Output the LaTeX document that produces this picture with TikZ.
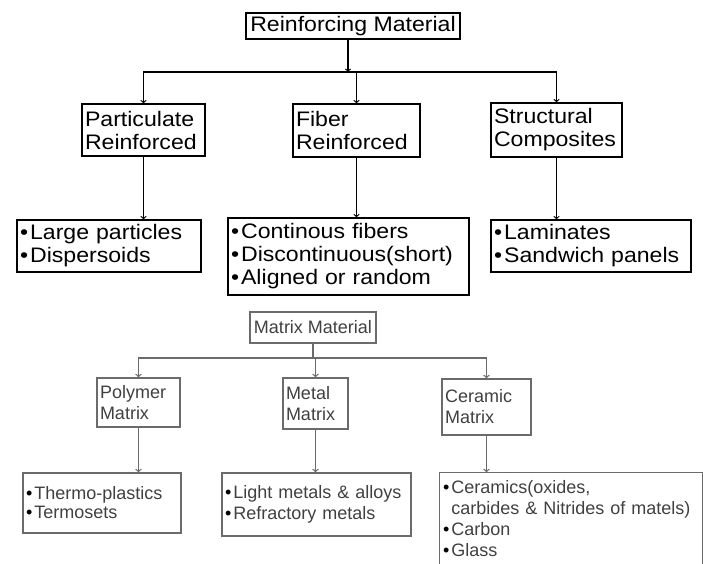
\documentclass[tikz,border=0pt]{standalone}
\usepackage{fontspec}
\setmainfont{Liberation Sans}
\newfontfamily\topfont{Liberation Sans}[FakeStretch=1.1]
\usepackage{tikz}
\usetikzlibrary{arrows,positioning,calc}

\definecolor{matline}{gray}{0.42}
\definecolor{mattext}{gray}{0.25}
\newcommand{\bul}{\textcolor{black}{\textbullet}\hspace{2pt}}

\begin{document}
\begin{tikzpicture}[x=1pt, y=-1pt,
    top/.style={draw=black, line width=1.2pt, inner sep=3pt, align=left, font=\topfont\fontsize{21}{23}\selectfont},
    mat/.style={draw=matline, line width=1.3pt, inner sep=3pt, align=left, text=mattext, font=\fontsize{18}{21}\selectfont},
    link/.style={->, line width=1.2pt, black},
    matlink/.style={->, line width=1.3pt, matline},
]
\useasboundingbox (0,0) rectangle (703,564);

% Reinforcing material tree
\node[top, minimum width=214pt, minimum height=26pt] (rm) at (353,26) {Reinforcing Material};
\node[top, text width=117pt, minimum height=52pt] (part) at (143.5,130) {Particulate\\Reinforced};
\node[top, text width=121pt, minimum height=53pt] (fib) at (356.5,130.5) {Fiber\\Reinforced};
\node[top, text width=125pt, minimum height=54pt] (struc) at (556.5,130) {Structural\\Composites};

\node[top, text width=178pt, minimum height=52pt] (large) at (109,246) {\bul Large particles\\\bul Dispersoids};
\node[top, text width=235pt, minimum height=77pt] (fibitems) at (348.5,256.5) {\bul Continous fibers\\\bul Discontinuous(short)\\\bul Aligned or random};
\node[top, text width=194pt, minimum height=52pt] (lam) at (591,246) {\bul Laminates\\\bul Sandwich panels};

\coordinate (rj) at (348,72);
\draw[link] (rm.south -| rj) -- (rj);
\foreach \child in {part, fib, struc} {
    \draw[link] (rj) -| (\child);
}
\draw[link] (part) -- (part |- large.north);
\draw[link] (fib) -- (fib |- fibitems.north);
\draw[link] (struc) -- (struc |- lam.north);

% Matrix material tree
\node[mat, minimum width=126pt, minimum height=31pt] (mm) at (313,327.5) {Matrix Material};
\node[mat, text width=77pt, minimum height=49pt] (poly) at (138.5,402.5) {Polymer\\Matrix};
\node[mat, text width=59pt, minimum height=51pt] (metal) at (315.5,403.5) {Metal\\Matrix};
\node[mat, text width=83pt, minimum height=56pt] (cer) at (486.5,407) {Ceramic\\Matrix};

\node[mat, text width=152pt, minimum height=60pt, font=\fontsize{18}{19}\selectfont] (thermo) at (102,503) {\bul Thermo-plastics\\\bul Termosets};
\node[mat, text width=183pt, minimum height=63pt] (light) at (316.5,504.5) {\bul Light metals \& alloys\\\bul Refractory metals};
\node[mat, draw=none, text width=256pt, minimum height=91pt] (ceritems) at (571,518.5) {\bul Ceramics(oxides,\\\hphantom{\bul}carbides \& Nitrides of matels)\\\bul Carbon\\\bul Glass};
\draw[matline, line width=1.3pt] (ceritems.south west) -- (ceritems.north west) -- (ceritems.north east) -- (ceritems.south east);

\coordinate (mj) at (313,358);
\draw[matline, line width=1.3pt] (mm) -- (mj);
\foreach \child in {poly, metal, cer} {
    \draw[matlink] (mj) -| (\child);
}
\draw[matlink] (poly) -- (poly |- thermo.north);
\draw[matlink] (metal) -- (metal |- light.north);
\draw[matlink] (cer) -- (cer |- ceritems.north);

\end{tikzpicture}
\end{document}
